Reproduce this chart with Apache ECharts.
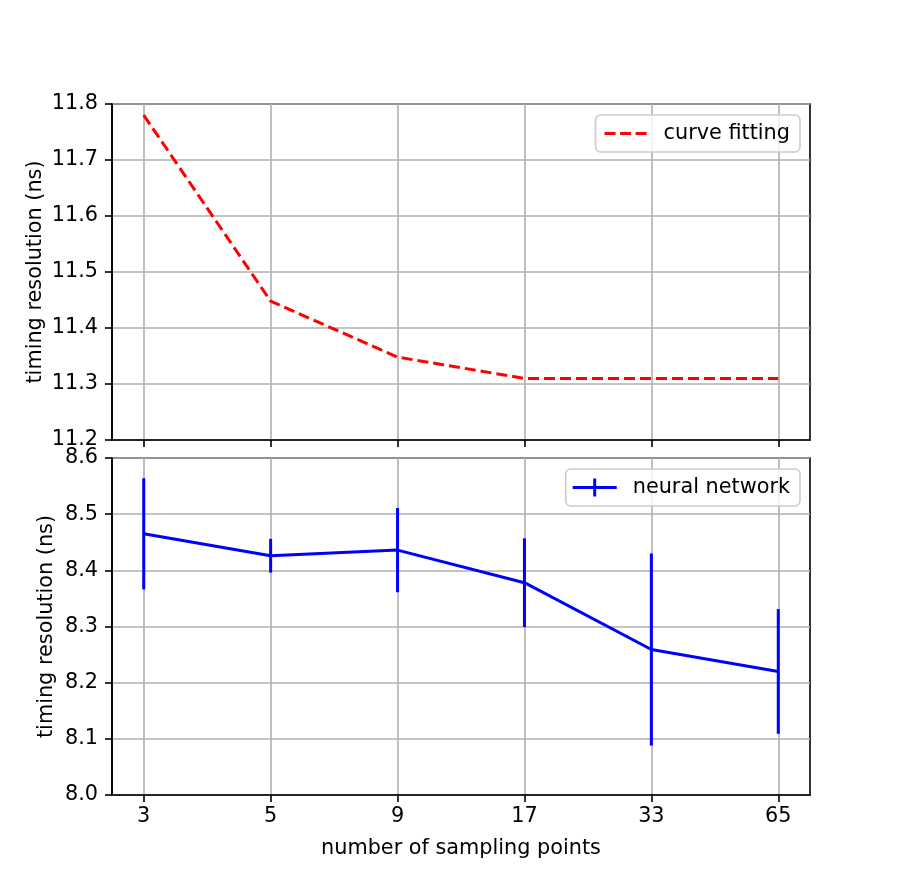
<!DOCTYPE html>
<html>
<head>
<meta charset="utf-8">
<script src="https://cdn.jsdelivr.net/npm/echarts@6/dist/echarts.min.js"></script>
<style>
  html, body { margin: 0; padding: 0; background: #fff; }
  #chart { width: 900px; height: 894px; }
</style>
</head>
<body>
<div id="chart"></div>
<script>
// number of sampling points (shown evenly spaced)
const samplingPoints = [3, 5, 9, 17, 33, 65];
// curve fitting timing resolution (ns)
const curveFitting = [11.78, 11.448, 11.348, 11.31, 11.31, 11.31];
// neural network timing resolution (ns) and its error
const neuralNetwork = [8.465, 8.426, 8.436, 8.378, 8.259, 8.220];
const neuralError = [0.099, 0.030, 0.075, 0.079, 0.171, 0.111];
const topTicks = [11.2, 11.3, 11.4, 11.5, 11.6, 11.7, 11.8];
const bottomTicks = [8.0, 8.1, 8.2, 8.3, 8.4, 8.5, 8.6];

const idx = samplingPoints.map((_, i) => i);
const font = '"DejaVu Sans", sans-serif';
const fs = 20.8;

const chart = echarts.init(document.getElementById('chart'), null, { renderer: 'canvas' });

function xAxis(gridIndex, withLabels) {
  return {
    type: 'value',
    gridIndex: gridIndex,
    min: -0.25,
    max: 5.25,
    name: withLabels ? 'number of sampling points' : '',
    nameLocation: 'middle',
    nameGap: 43,
    nameTextStyle: { color: '#000', fontSize: fs, fontFamily: font },
    axisLine: { show: true, onZero: false, lineStyle: { color: '#000', width: 1.6 } },
    axisTick: { show: true, customValues: idx, length: 7, lineStyle: { color: '#000', width: 1.6 } },
    axisLabel: {
      show: withLabels,
      customValues: idx,
      color: '#000', fontSize: fs, fontFamily: font, margin: 11,
      formatter: v => String(samplingPoints[Math.round(v)])
    },
    splitLine: { show: true, lineStyle: { color: '#b0b0b0', width: 1.6 } }
  };
}

function yAxis(gridIndex, ticks, gap) {
  return {
    type: 'value',
    gridIndex: gridIndex,
    min: ticks[0],
    max: ticks[ticks.length - 1],
    interval: 0.1,
    name: 'timing resolution (ns)',
    nameLocation: 'middle',
    nameGap: gap,
    nameMoveOverlap: false,
    nameTextStyle: { color: '#000', fontSize: fs, fontFamily: font },
    axisLine: { show: true, onZero: false, lineStyle: { color: '#000', width: 1.6 } },
    axisTick: { show: true, length: 7, lineStyle: { color: '#000', width: 1.6 } },
    axisLabel: { color: '#000', fontSize: fs, fontFamily: font, margin: 14, formatter: v => v.toFixed(1) },
    splitLine: { show: true, lineStyle: { color: '#b0b0b0', width: 1.6 } }
  };
}

const legendBase = {
  orient: 'vertical',
  right: 100,
  backgroundColor: 'rgba(255,255,255,0.8)',
  borderColor: '#cccccc',
  borderWidth: 1.6,
  borderRadius: 5,
  itemHeight: 18,
  textStyle: { color: '#000', fontSize: fs, fontFamily: font }
};

const option = {
  backgroundColor: '#fff',
  animation: false,
  grid: [
    { left: 112, top: 104, width: 698, height: 336, show: true, borderColor: '#000', borderWidth: 1.6, backgroundColor: 'transparent' },
    { left: 112, top: 458, width: 698, height: 337, show: true, borderColor: '#000', borderWidth: 1.6, backgroundColor: 'transparent' }
  ],
  legend: [
    Object.assign({}, legendBase, {
      top: 115,
      padding: [8, 10, 8, 9],
      itemWidth: 42,
      textStyle: Object.assign({}, legendBase.textStyle, { padding: [0, 0, 0, 12] }),
      data: [{ name: 'curve fitting', icon: 'path://M0,7.5 H11 V10.5 H0 Z M15.5,7.5 H26.5 V10.5 H15.5 Z M31,7.5 H42 V10.5 H31 Z' }]
    }),
    Object.assign({}, legendBase, {
      top: 469,
      padding: [8, 10, 8, 7],
      itemWidth: 44,
      textStyle: Object.assign({}, legendBase.textStyle, { padding: [0, 0, 0, 11] }),
      data: [{ name: 'neural network', icon: 'path://M0,7.5 H44 V10.5 H0 Z M20.5,0 H23.5 V18 H20.5 Z' }]
    })
  ],
  xAxis: [xAxis(0, false), xAxis(1, true)],
  yAxis: [yAxis(0, topTicks, 66), yAxis(1, bottomTicks, 55)],
  series: [
    {
      name: 'curve fitting',
      type: 'line',
      xAxisIndex: 0,
      yAxisIndex: 0,
      data: curveFitting.map((v, i) => [i, v]),
      symbol: 'none',
      color: '#ff0000',
      lineStyle: { color: '#ff0000', width: 3, type: [11, 5] }
    },
    {
      name: 'neural network',
      type: 'line',
      xAxisIndex: 1,
      yAxisIndex: 1,
      data: neuralNetwork.map((v, i) => [i, v]),
      symbol: 'none',
      color: '#0000ff',
      lineStyle: { color: '#0000ff', width: 3 }
    },
    {
      name: 'neural network',
      type: 'custom',
      xAxisIndex: 1,
      yAxisIndex: 1,
      data: neuralNetwork.map((v, i) => [i, v - neuralError[i], v + neuralError[i]]),
      renderItem: function (params, api) {
        const lo = api.coord([api.value(0), api.value(1)]);
        const hi = api.coord([api.value(0), api.value(2)]);
        return {
          type: 'line',
          shape: { x1: lo[0], y1: lo[1], x2: hi[0], y2: hi[1] },
          style: { stroke: '#0000ff', lineWidth: 3 }
        };
      },
      z: 3
    }
  ]
};

chart.setOption(option);
</script>
</body>
</html>
